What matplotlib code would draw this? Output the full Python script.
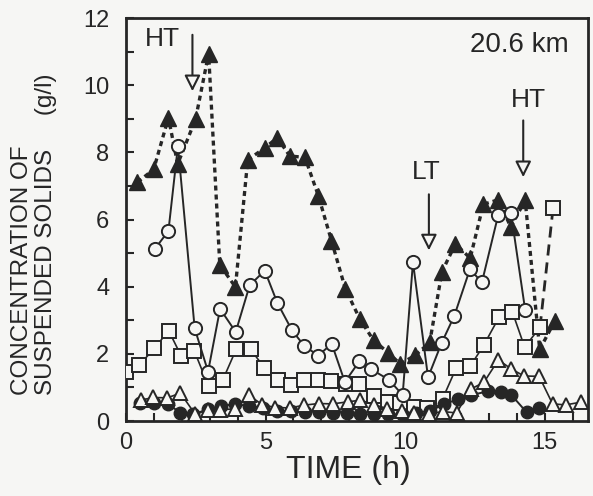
import matplotlib
matplotlib.use("Agg")
import matplotlib.pyplot as plt
from matplotlib.ticker import MultipleLocator

plt.rcParams['font.family'] = ['Liberation Sans', 'DejaVu Sans']

# time (h) and concentration (g/l)
tri_f_t = [0.41, 0.99, 1.52, 1.85, 2.49, 2.96, 3.36, 3.92, 4.36, 4.98, 5.42, 5.87, 6.41, 6.89, 7.36,
           7.86, 8.38, 8.87, 9.40, 9.82, 10.37, 10.88, 11.32, 11.80, 12.33, 12.80, 13.34, 13.78,
           14.30, 14.82, 15.37]
tri_f_c = [7.11, 7.49, 9.03, 7.65, 8.98, 10.94, 4.65, 3.99, 7.77, 8.14, 8.43, 7.89, 7.85, 6.71, 5.37,
           3.93, 3.03, 2.40, 2.03, 1.70, 1.96, 2.34, 4.45, 5.27, 4.85, 6.45, 6.59, 5.78,
           6.57, 2.13, 2.99]

circ_t = [1.04, 1.52, 1.86, 2.46, 2.94, 3.37, 3.93, 4.43, 4.97, 5.42, 5.94, 6.39, 6.89, 7.37, 7.84,
          8.36, 8.78, 9.42, 9.91, 10.28, 10.82, 11.31, 11.76, 12.32, 12.75, 13.33, 13.79, 14.30]
circ_c = [5.13, 5.66, 8.19, 2.76, 1.47, 3.34, 2.65, 4.04, 4.48, 3.52, 2.71, 2.23, 1.95, 2.30, 1.16,
          1.78, 1.54, 1.23, 0.77, 4.73, 1.30, 2.33, 3.13, 4.52, 4.13, 6.12, 6.20, 3.30]

sq_t = [0.0, 0.47, 1.01, 1.53, 1.98, 2.45, 2.96, 3.47, 3.95, 4.46, 4.95, 5.44, 5.90, 6.37, 6.87, 7.34,
        7.87, 8.34, 8.87, 9.37, 9.83, 10.30, 10.80, 11.34, 11.83, 12.33, 12.81, 13.37, 13.84, 14.28,
        14.83]
sq_c = [1.46, 1.66, 2.16, 2.69, 1.93, 2.08, 1.03, 1.23, 2.14, 2.14, 1.59, 1.23, 1.07, 1.21, 1.21, 1.20,
        1.10, 1.10, 0.73, 0.57, 0.54, 0.41, 0.38, 0.66, 1.58, 1.63, 2.25, 3.10, 3.25, 2.20,
        2.79]
# last square, joined by a dashed segment
sq_last_t = 15.30
sq_last_c = 6.35

tri_o_t = [0.52, 0.98, 1.48, 1.95, 2.48, 2.95, 3.38, 3.92, 4.39, 4.88, 5.35, 5.89, 6.36, 6.90, 7.40,
           7.94, 8.40, 8.87, 9.36, 9.87, 10.33, 10.87, 11.37, 11.84, 12.35, 12.82, 13.34, 13.80,
           14.26, 14.80, 15.28, 15.75, 16.29]
tri_o_c = [0.62, 0.70, 0.69, 0.83, 0.20, 0.34, 0.34, 0.36, 0.77, 0.49, 0.40, 0.39, 0.47, 0.52, 0.51,
           0.57, 0.62, 0.49, 0.37, 0.30, 0.23, 0.22, 0.28, 0.24, 0.95, 1.15, 1.82, 1.55,
           1.34, 1.33, 0.51, 0.48, 0.56]

circ_f_t = [0.5, 1.0, 1.5, 1.95, 2.4, 2.95, 3.4, 3.9, 4.4, 4.9, 5.4, 5.9, 6.4, 6.9, 7.4, 7.9, 8.4, 8.9,
            9.4, 9.9, 10.4, 10.9, 11.4, 11.9, 12.35, 12.95, 13.45, 13.8, 14.35, 14.8]
circ_f_c = [0.55, 0.55, 0.5, 0.25, 0.2, 0.35, 0.45, 0.5, 0.45, 0.4, 0.3, 0.3, 0.28, 0.28, 0.25, 0.25,
            0.2, 0.2, 0.2, 0.2, 0.25, 0.3, 0.5, 0.65, 0.77, 0.88, 0.87, 0.78, 0.26, 0.40]

# tide marks: (label, time, arrow top, arrow tip, label x, label y)
tides = [('HT', 2.38, 11.50, 9.82, 1.30, 11.38),
         ('LT', 10.85, 6.75, 5.08, 10.77, 7.40),
         ('HT', 14.23, 8.95, 7.26, 14.40, 9.55)]

ink = '#262626'
bg = '#f6f6f4'

fig = plt.figure(figsize=(5.93, 4.96), dpi=100, facecolor=bg)
ax = fig.add_axes([126 / 593, 75 / 496, 462 / 593, 403 / 496], facecolor=bg)

ax.plot(tri_f_t, tri_f_c, color=ink, lw=2.4, ls=(0, (1.5, 1.2)), marker='^', ms=11,
        mfc=ink, mec=ink, zorder=2)
ax.plot(sq_t, sq_c, color=ink, lw=1.2, marker='s', ms=9.5, mfc=bg, mec=ink, mew=1.4, zorder=3)
ax.plot([sq_t[-1], sq_last_t], [sq_c[-1], sq_last_c], color=ink, lw=2.0, ls=(0, (4, 2.5)), zorder=2)
ax.plot([sq_last_t], [sq_last_c], ls='none', marker='s', ms=9.5, mfc=bg, mec=ink, mew=1.4, zorder=3)
ax.plot(circ_t, circ_c, color=ink, lw=1.4, marker='o', ms=9.5, mfc=bg, mec=ink, mew=1.4, zorder=4)
ax.plot(circ_f_t, circ_f_c, color=ink, lw=1.4, marker='o', ms=9, mfc=ink, mec=ink, zorder=4)
ax.plot(tri_o_t, tri_o_c, color=ink, lw=1.2, marker='^', ms=10, mfc=bg, mec=ink, mew=1.4, zorder=5)

for label, t, top, tip, lx, ly in tides:
    ax.annotate('', xy=(t, tip), xytext=(t, top),
                arrowprops=dict(arrowstyle='-|>', lw=1.5, color=ink, fc=bg,
                                mutation_scale=24, shrinkA=0, shrinkB=0), zorder=6)
    ax.text(lx, ly, label, fontsize=19, color=ink, ha='center', va='center')

ax.text(14.08, 11.19, '20.6 km', fontsize=20, color=ink, ha='center', va='center')

ax.set_xlim(0, 16.55)
ax.set_ylim(0, 12)
ax.xaxis.set_major_locator(MultipleLocator(5))
ax.xaxis.set_minor_locator(MultipleLocator(1))
ax.yaxis.set_major_locator(MultipleLocator(2))
ax.yaxis.set_minor_locator(MultipleLocator(1))
ax.tick_params(which='both', direction='in', length=6, width=1.5, color=ink,
               labelsize=17, labelcolor=ink)
ax.tick_params(axis='x', pad=8)
ax.tick_params(axis='y', pad=12)
for s in ax.spines.values():
    s.set_linewidth(2.0)
    s.set_color(ink)

fig.text(348 / 593, 26 / 496, 'TIME (h)', fontsize=23, color=ink, ha='center', va='center')
fig.text(34 / 593, 101 / 496, 'CONCENTRATION OF\nSUSPENDED SOLIDS     (g/l)', fontsize=17.5,
         color=ink, rotation=90, ha='center', va='bottom', multialignment='left',
         linespacing=1.15)

fig.savefig('out.png', dpi=100, facecolor=bg)
